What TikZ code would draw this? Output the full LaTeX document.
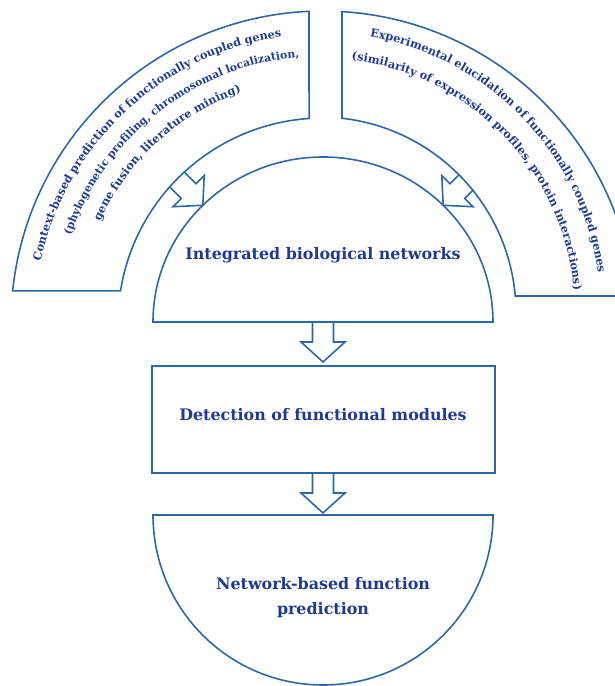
\documentclass[tikz,border=0pt]{standalone}
\usepackage{fontspec}
\setmainfont{DejaVu Serif}
\usetikzlibrary{calc,decorations.text}
\definecolor{ln}{RGB}{46,104,164}
\definecolor{txt}{RGB}{32,58,145}
\newcommand\arcfnt{\fontsize{11.3}{13}\selectfont\bfseries\color{txt}}
\newcommand\arcfntb{\fontsize{10.8}{13}\selectfont\bfseries\color{txt}}
\newcommand\blkarrow[2]{%
  \path ($(#2)!20pt!(#1)$) coordinate (hb);
  \draw[shp] ($(#1)!10.5pt!90:(#2)$) -- ($(hb)!10.5pt!90:(#2)$) -- ($(hb)!22pt!90:(#2)$)
    -- (#2) -- ($(hb)!22pt!-90:(#2)$) -- ($(hb)!10.5pt!-90:(#2)$) -- ($(#1)!10.5pt!-90:(#2)$);
}
\tikzset{
  shp/.style={draw=ln, line width=1.6pt, line join=miter},
  lbl/.style={font=\fontsize{15.9}{25}\selectfont\bfseries, text=txt, align=center, inner sep=0pt},
  arctext/.style={decorate, decoration={text along path, text align=center}}
}
\begin{document}
\begin{tikzpicture}[x=1pt,y=1pt]
\useasboundingbox (0,0) rectangle (615,686);
\clip (0,0) rectangle (615,686);
\coordinate (C) at (323,363);
\coordinate (C2) at (320,373);
% left ring sector
\draw[shp] ($(C)+(174.1:312pt)$) arc[start angle=174.1, end angle=92.57, radius=312pt]
  -- ($(C)+(93.9:205pt)$) arc[start angle=93.9, end angle=171.0, radius=205pt] -- cycle;
% right ring sector
\draw[shp] (342,674.4) -- ($(C2)+(83.56:196pt)$) arc[start angle=83.56, end angle=4.97, radius=196pt]
  -- ($(C)+(4.97:312pt)$) arc[start angle=4.97, end angle=86.5, radius=312pt] -- cycle;
% curved texts, left
\path[arctext, decoration={text={|\arcfnt|Context-based prediction of functionally coupled genes}}]
  ($(C)+(180:289pt)$) arc[start angle=180, end angle=86, radius=289pt];
\path[arctext, decoration={text={|\arcfntb|(phylogenetic profiling, chromosomal localization,}}]
  ($(C)+(175:267pt)$) arc[start angle=175, end angle=81, radius=267pt];
\path[arctext, decoration={text={|\arcfnt|gene fusion, literature mining)}}]
  ($(C)+(179.5:245pt)$) arc[start angle=179.5, end angle=85.5, radius=245pt];
% curved texts, right
\path[arctext, decoration={text={|\arcfnt|Experimental elucidation of functionally coupled genes}}]
  ($(C2)+(94:281pt)$) arc[start angle=94, end angle=-6, radius=281pt];
\path[arctext, decoration={text={|\arcfnt|(similarity of expression profiles, protein interactions)}}]
  ($(C2)+(94:255pt)$) arc[start angle=94, end angle=-6, radius=255pt];
% top half disc
\draw[shp] (153,364) arc[start angle=180, end angle=0, x radius=170pt, y radius=165pt] -- cycle;
\node[lbl] (integ) at (323,431) {Integrated biological networks};
% rectangle
\node[shp, minimum width=343pt, minimum height=107pt, inner sep=0pt] (detect) at (323.5,266.5) {};
\node[lbl] (detectlbl) at (323,271) {Detection of functional modules};
% bottom half disc
\draw[shp] (153,171) -- (493,171) arc[start angle=0, end angle=-180, radius=170pt] -- cycle;
\node[lbl] (netpred) at (323,88.5) {Network-based function\\prediction};
% arrows
\coordinate (a1s) at (323,364);
\coordinate (a1t) at (323,324);
\coordinate (a2s) at (323,213);
\coordinate (a2t) at (323,173);
\coordinate (a3s) at (176.8,506.7);
\coordinate (a3t) at (202.8,480.7);
\coordinate (a4s) at (466.2,503.7);
\coordinate (a4t) at (443.2,480.7);
\blkarrow{a1s}{a1t}
\blkarrow{a2s}{a2t}
\blkarrow{a3s}{a3t}
\blkarrow{a4s}{a4t}
\end{tikzpicture}
\end{document}
